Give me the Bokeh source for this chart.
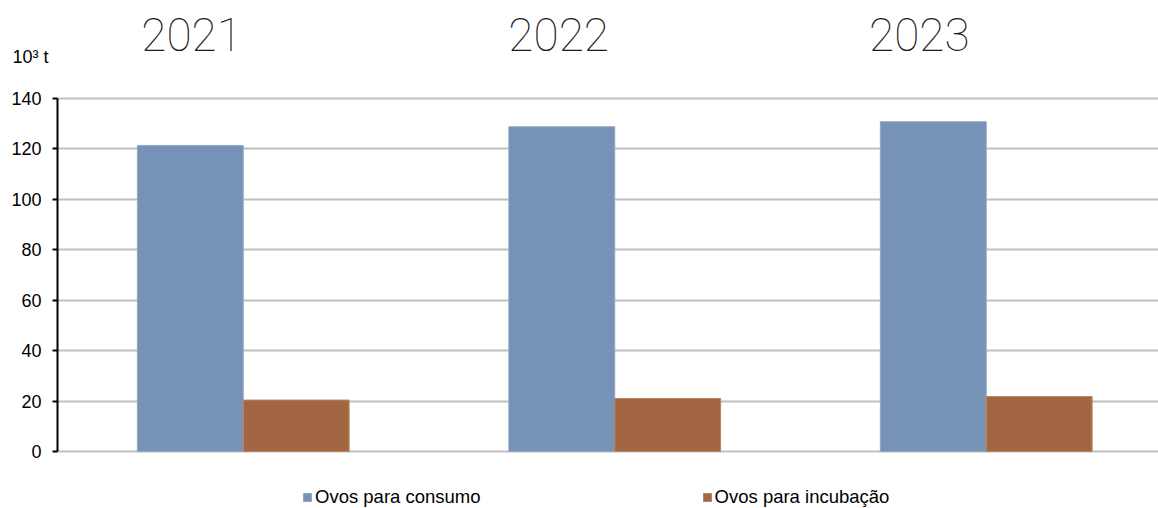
import numpy as np
from bokeh.plotting import figure
from bokeh.models import FixedTicker, Legend, LegendItem, Range1d, ColumnDataSource
from bokeh.core.properties import value
from bokeh.embed import file_html
from bokeh.resources import INLINE

# ---- data ----
years = ["2021", "2022", "2023"]
consumo = [121.4, 128.8, 130.8]
incubacao = [20.4, 21.0, 21.8]
series_names = ["Ovos para consumo", "Ovos para incubação"]
y_ticks = [0, 20, 40, 60, 80, 100, 120, 140]
unit_label = "10³ t"

# ---- styles / layout ----
BLUE = "#7692B7"
BROWN = "#A26742"
GRID = "#C0C0C0"
FONT = "Liberation Sans"
YEAR_FONT = "Roboto Thin"
year_label_dx = [-0.139, -0.151, -0.180]

idx = np.arange(len(years))
bar_w = 0.285
AXIS_X = -0.5
X0, X1 = -0.6534, 2.4637
Y0, Y1 = -22.62, 178.89

p = figure(width=1158, height=508, output_backend="svg", toolbar_location=None,
           x_range=Range1d(X0, X1), y_range=Range1d(Y0, Y1),
           min_border_left=0, min_border_right=0, min_border_top=0, min_border_bottom=0)
p.outline_line_color = None
p.background_fill_color = "white"
p.border_fill_color = "white"

p.xaxis.visible = False
p.xgrid.visible = False

p.yaxis.fixed_location = AXIS_X
p.yaxis.ticker = FixedTicker(ticks=y_ticks)
p.yaxis.bounds = (0, 140)
p.yaxis.axis_line_color = "black"
p.yaxis.axis_line_width = 2
p.yaxis.major_tick_line_color = "black"
p.yaxis.major_tick_line_width = 2
p.yaxis.major_tick_out = 5
p.yaxis.major_tick_in = 0
p.yaxis.minor_tick_line_color = None
p.yaxis.major_label_text_font = FONT
p.yaxis.major_label_text_font_size = "18px"
p.yaxis.major_label_text_color = "black"
p.yaxis.major_label_standoff = 11

p.ygrid.ticker = FixedTicker(ticks=y_ticks)
p.ygrid.grid_line_color = GRID
p.ygrid.grid_line_width = 2

# white margin left of the value axis (keeps grid lines starting at the axis)
p.quad(left=[X0 - 0.05], right=[AXIS_X], bottom=[Y0], top=[Y1],
       fill_color="white", line_color=None)

src = ColumnDataSource(dict(
    x_c=idx - bar_w / 2, x_i=idx + bar_w / 2,
    consumo=consumo, incubacao=incubacao,
    xt=idx + np.array(year_label_dx), yt=[165.4] * len(years), year=years,
))

r1 = p.vbar(x="x_c", top="consumo", bottom=0, width=bar_w, source=src,
            fill_color=BLUE, line_color="#90A7C6", line_width=1)
r2 = p.vbar(x="x_i", top="incubacao", bottom=0, width=bar_w, source=src,
            fill_color=BROWN, line_color="#B98563", line_width=1)

p.text(x="xt", y="yt", text="year", source=src, text_font=value(YEAR_FONT),
       text_font_size="46px", text_color="#1a1a1a", text_align="center",
       text_baseline="middle")

p.text(x=[-0.621], y=[156.3], text=[unit_label], text_font=value(FONT),
       text_font_size="18px", text_color="black", text_align="left",
       text_baseline="middle")

legend = Legend(items=[LegendItem(label=series_names[0], renderers=[r1]),
                       LegendItem(label=series_names[1], renderers=[r2])],
                orientation="horizontal", location=(302, 0), padding=0, margin=0,
                spacing=221, glyph_width=10, glyph_height=10, label_standoff=3,
                label_height=16, label_text_font=FONT, label_text_font_size="18.5px",
                label_text_color="black", border_line_color=None,
                background_fill_alpha=0)
p.add_layout(legend, "center")

open("out.html", "w").write(file_html(p, INLINE))
